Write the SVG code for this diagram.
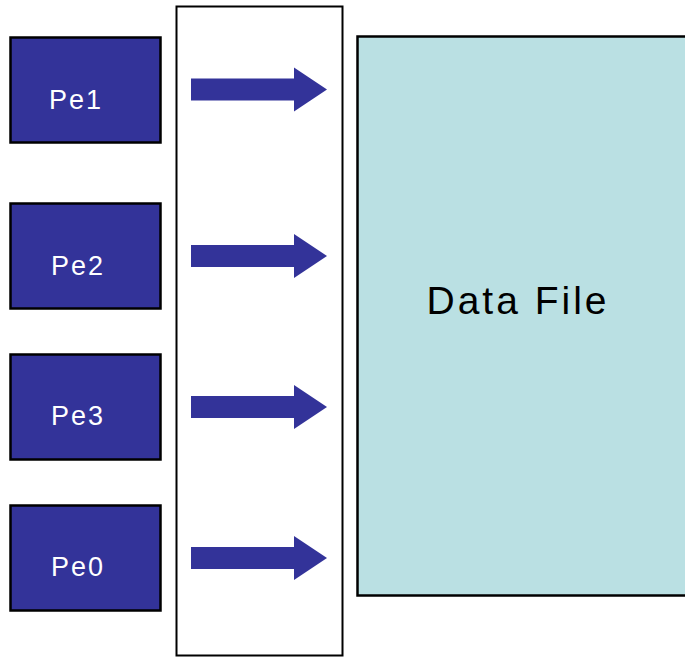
<svg xmlns="http://www.w3.org/2000/svg" width="685" height="657" viewBox="0 0 685 657">
<style>
.pe{fill:#333399;stroke:#000;stroke-width:2.5}
.pt{fill:#fff;font-family:"Liberation Sans",Arial,sans-serif;font-size:27px;letter-spacing:2px;text-anchor:middle}
.arr{fill:#333399}
</style>
<defs>
<path id="a" d="M191,-11 H294 V-22 L327,0 L294,22 V11 H191 Z"/>
</defs>
<rect width="685" height="657" fill="#fff"/>
<g id="buffer"><rect x="176.5" y="6.5" width="166" height="649" fill="#fff" stroke="#000" stroke-width="2"/></g>
<g id="datafile">
<rect x="357.5" y="36.5" width="340" height="559" fill="#bae0e3" stroke="#000" stroke-width="2.5"/>
<text x="518" y="314" font-family="'Liberation Sans',Arial,sans-serif" font-size="39" letter-spacing="3" text-anchor="middle" fill="#000">Data File</text>
</g>
<g id="pe1"><rect class="pe" x="10.5" y="37.5" width="150" height="105"/><text class="pt" x="76" y="109">Pe1</text></g>
<g id="pe2"><rect class="pe" x="10.5" y="203.5" width="150" height="105"/><text class="pt" x="78" y="275">Pe2</text></g>
<g id="pe3"><rect class="pe" x="10.5" y="354.5" width="150" height="105"/><text class="pt" x="78" y="425">Pe3</text></g>
<g id="pe0"><rect class="pe" x="10.5" y="505.5" width="150" height="105"/><text class="pt" x="78" y="576">Pe0</text></g>
<g id="connectors">
<use href="#a" class="arr" transform="translate(0,89.5)"/>
<use href="#a" class="arr" transform="translate(0,256)"/>
<use href="#a" class="arr" transform="translate(0,407)"/>
<use href="#a" class="arr" transform="translate(0,558)"/>
</g>
</svg>
